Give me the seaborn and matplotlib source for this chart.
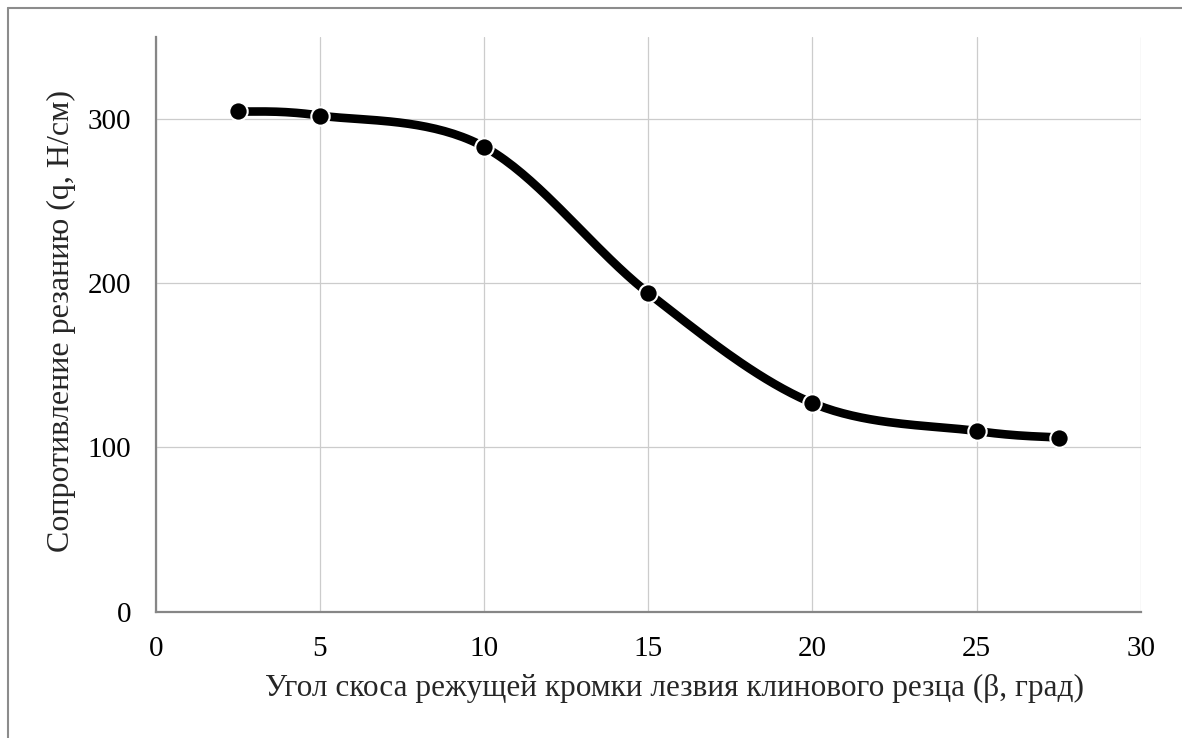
import numpy as np
import pandas as pd
import seaborn as sns
import matplotlib.pyplot as plt
from matplotlib.lines import Line2D

# Data
angle = [2.5, 5, 10, 15, 20, 25, 27.5]
resistance = [304.5, 302, 283, 194, 127, 110, 106]

x_ticks = [0, 5, 10, 15, 20, 25, 30]
y_ticks = [0, 100, 200, 300]

x_label = 'Угол скоса режущей кромки лезвия клинового резца (β, град)'
y_label = 'Сопротивление резанию (q, Н/см)'


def smooth_curve(xs, ys, n=40):
    # Excel-like smoothed line (cubic Bezier through points)
    p = np.column_stack([xs, ys]).astype(float)
    p = np.vstack([p[0], p, p[-1]])
    out = []
    for i in range(1, len(p) - 2):
        p0, p1, p2, p3 = p[i - 1], p[i], p[i + 1], p[i + 2]
        c1 = p1 + (p2 - p0) / 6
        c2 = p2 - (p3 - p1) / 6
        t = np.linspace(0, 1, n)[:, None]
        seg = ((1 - t) ** 3) * p1 + 3 * ((1 - t) ** 2) * t * c1 + 3 * (1 - t) * t ** 2 * c2 + t ** 3 * p2
        out.append(seg if i == 1 else seg[1:])
    out = np.vstack(out)
    return out[:, 0], out[:, 1]


sns.set_style('white')
plt.rcParams['font.family'] = ['Liberation Serif', 'DejaVu Serif']

fig = plt.figure(figsize=(11.82, 7.38), dpi=100)
ax = fig.add_axes([0.1317, 0.1711, 0.8334, 0.7792])

df = pd.DataFrame({'angle': angle, 'q': resistance})
sx, sy = smooth_curve(angle, resistance)
curve = pd.DataFrame({'angle': sx, 'q': sy})

sns.lineplot(data=curve, x='angle', y='q', sort=False, color='black',
             linewidth=6.2, ax=ax, zorder=3)
sns.scatterplot(data=df, x='angle', y='q', color='black', s=175,
                edgecolor='white', linewidth=1.5, ax=ax, zorder=4)

ax.set_xlim(0, 30)
ax.set_ylim(0, 350)
ax.set_xticks(x_ticks)
ax.set_yticks(y_ticks)
ax.grid(True, color='#cccccc', linewidth=0.9)
ax.set_axisbelow(True)

for side in ['top', 'right']:
    ax.spines[side].set_visible(False)
for side in ['left', 'bottom']:
    ax.spines[side].set_color('#868686')
    ax.spines[side].set_linewidth(1.6)

ax.tick_params(axis='both', direction='out', length=6.5, width=1.4,
               color='#868686', labelsize=21, labelcolor='black')
ax.tick_params(axis='y', pad=11)
ax.tick_params(axis='x', pad=11)

ax.set_xlabel(x_label, fontsize=22.5)
ax.set_ylabel(y_label, fontsize=23)
ax.xaxis.set_label_coords(0.527, -0.133)
ax.yaxis.set_label_coords(-0.096, 0.505)
ax.xaxis.label.set_va('center')
ax.yaxis.label.set_va('center')

# chart border (only top and left visible in the reference)
fig.add_artist(Line2D([8 / 1182, 8 / 1182], [0, 1 - 8 / 738],
                      transform=fig.transFigure, color='#8c8c8c', linewidth=1.5))
fig.add_artist(Line2D([8 / 1182, 1], [1 - 8 / 738, 1 - 8 / 738],
                      transform=fig.transFigure, color='#8c8c8c', linewidth=1.5))

fig.savefig('out.png', dpi=100)
